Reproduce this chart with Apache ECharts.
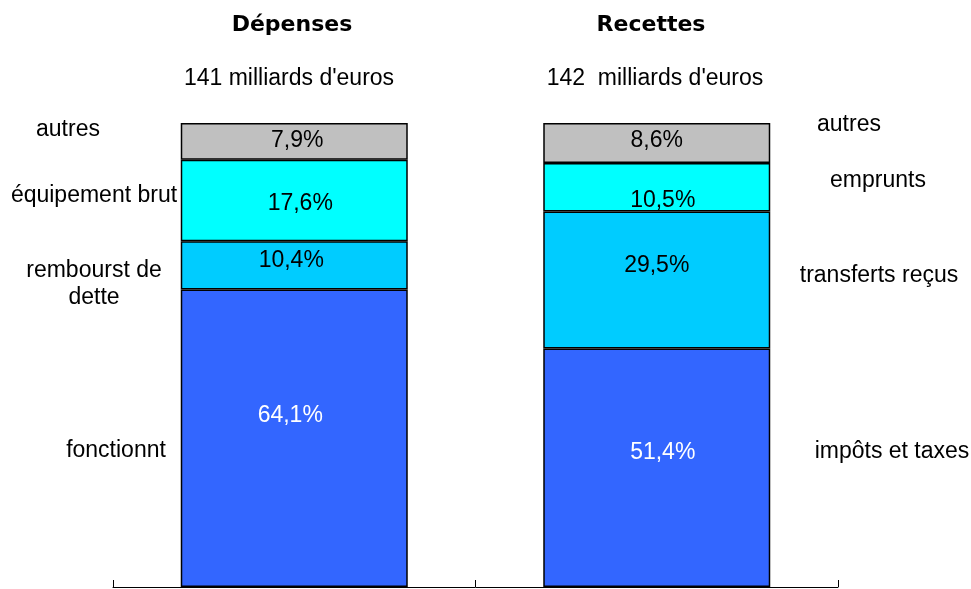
<!DOCTYPE html>
<html>
<head>
<meta charset="utf-8">
<script src="https://cdn.jsdelivr.net/npm/echarts@6/dist/echarts.min.js"></script>
<style>html,body{margin:0;padding:0;background:#fff}#c{width:971px;height:589px}</style>
</head>
<body>
<div id="c"></div>
<script>
// ---- data ----
const categories = ['Dépenses', 'Recettes'];
const totals = ['141 milliards d\'euros', '142  milliards d\'euros'];
const depensesNames = ['fonctionnt', 'rembourst de\ndette', 'équipement brut', 'autres'];
const recettesNames = ['impôts et taxes', 'transferts reçus', 'emprunts', 'autres'];
const depensesValues = [64.1, 10.4, 17.6, 7.9];
const recettesValues = [51.4, 29.5, 10.5, 8.6];

// ---- styling / layout ----
const colors = ['#3366FF', '#00CCFF', '#00FFFF', '#C0C0C0'];
const labelColors = ['#FFFFFF', '#000000', '#000000', '#000000'];
const depLabelOffsets = [[-4, -23], [-3, -5], [6, 3], [3, -1]];
const recLabelOffsets = [[6, -15], [0, -14], [6, 13], [0, -2]];
const depNamePos = [[116, 451], [94, 284], [94, 196], [68, 130]];
const recNamePos = [[892, 452], [879, 276], [878, 181], [849, 125]];
const FONT = '"Liberation Sans", Arial, sans-serif';
const FS = 23;

const fmt = v => v.toFixed(1).replace('.', ',') + '%';

const series = depensesValues.map((_, i) => ({
  type: 'bar',
  stack: 'total',
  barWidth: 227,
  name: depensesNames[i] + ' / ' + recettesNames[i],
  itemStyle: { color: colors[i], borderColor: '#000', borderWidth: 1.5 },
  label: {
    show: true,
    position: 'inside',
    color: labelColors[i],
    fontFamily: FONT,
    fontSize: FS,
    formatter: p => fmt(p.value)
  },
  data: [
    { value: depensesValues[i], label: { offset: depLabelOffsets[i] } },
    { value: recettesValues[i], label: { offset: recLabelOffsets[i] } }
  ]
}));

const txt = (text, x, y, extra) => ({
  type: 'text', x: x, y: y,
  style: Object.assign({
    text: text, fill: '#000', font: FS + 'px ' + FONT,
    textAlign: 'center', textVerticalAlign: 'middle', lineHeight: 27
  }, extra || {})
});

const graphics = [];
graphics.push(txt(categories[0], 292, 25, { font: 'bold 22px "DejaVu Sans", sans-serif' }));
graphics.push(txt(categories[1], 651, 25, { font: 'bold 22px "DejaVu Sans", sans-serif' }));
graphics.push(txt(totals[0], 289, 79));
graphics.push(txt(totals[1], 655, 79));
depensesNames.forEach((n, i) => graphics.push(txt(n, depNamePos[i][0], depNamePos[i][1])));
recettesNames.forEach((n, i) => graphics.push(txt(n, recNamePos[i][0], recNamePos[i][1])));

const chart = echarts.init(document.getElementById('c'));
chart.setOption({
  animation: false,
  backgroundColor: '#fff',
  grid: { left: 113, right: 133, top: 123, bottom: 2, containLabel: false },
  xAxis: {
    type: 'category',
    data: categories,
    boundaryGap: true,
    axisLine: { lineStyle: { color: '#000', width: 1 } },
    axisTick: { show: true, inside: true, length: 7, lineStyle: { color: '#000' } },
    axisLabel: { show: false }
  },
  yAxis: {
    type: 'value', min: 0, max: 100, show: false,
    splitLine: { show: false }
  },
  series: series,
  graphic: graphics
});
</script>
</body>
</html>
